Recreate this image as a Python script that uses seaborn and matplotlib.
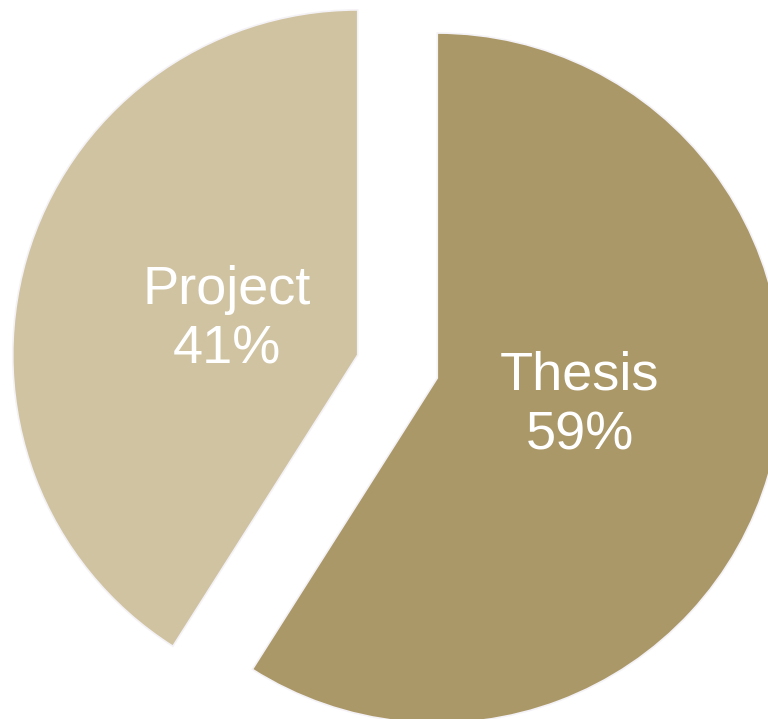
import matplotlib
matplotlib.use("Agg")
import matplotlib.pyplot as plt
import seaborn as sns

sns.set_theme(style="white")
plt.rcParams["font.family"] = ["Liberation Sans", "DejaVu Sans"]

# ── Data ─────────────────────────────────────────────
labels = ["Thesis", "Project"]
shares = [59, 41]
colors = ["#AB9868", "#D0C3A2"]

fig = plt.figure(figsize=(7.68, 7.19), dpi=100)
ax = fig.add_axes([0, 0, 1, 1])

wedges, texts, autotexts = ax.pie(
    shares,
    labels=None,
    colors=colors,
    explode=[0.12, 0.12],
    startangle=90,
    counterclock=False,
    radius=1.0,
    pctdistance=0.41,
    autopct=lambda p: "",
    wedgeprops=dict(edgecolor="#F4F2F6", linewidth=1.2),
)
for t, lab, val in zip(autotexts, labels, shares):
    t.set_text(f"{lab}\n{val}%")
    t.set_color("white")
    t.set_fontsize(39)
    t.set_linespacing(1.25)
    t.set_ha("center")
    t.set_va("center")

# small label nudges, as on the slide
nudges = [(0.02, 0.035), (0.015, -0.012)]
for t, (dx, dy) in zip(autotexts, nudges):
    x, y = t.get_position()
    t.set_position((x + dx, y + dy))

# crop the view like the original slide
scale = 345.0
cx, cy = 397.5, 366.5
ax.set_xlim(-cx / scale, (768 - cx) / scale)
ax.set_ylim(-(719 - cy) / scale, cy / scale)
ax.set_aspect("auto")
ax.axis("off")

fig.savefig("out.png", dpi=100)
plt.close(fig)
